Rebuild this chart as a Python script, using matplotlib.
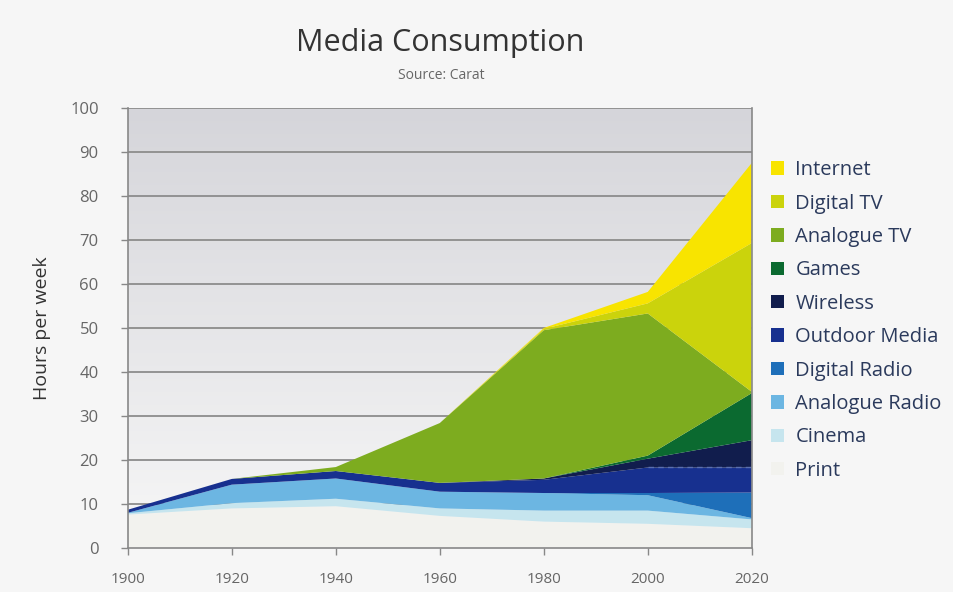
import numpy as np
import matplotlib
matplotlib.use("Agg")
import matplotlib.pyplot as plt
from matplotlib.patches import Patch
from matplotlib.colors import LinearSegmentedColormap

# ---- data ----
years = [1900, 1920, 1940, 1960, 1980, 2000, 2020]
print_media    = [7.6, 9.0, 9.5, 7.3, 6.0, 5.5, 4.5]
cinema         = [0.3, 1.2, 1.7, 1.7, 2.5, 3.0, 2.0]
analogue_radio = [0.1, 4.2, 4.6, 3.8, 4.0, 3.5, 0.3]
digital_radio  = [0.0, 0.0, 0.0, 0.0, 0.0, 0.5, 5.8]
outdoor_media  = [0.7, 1.3, 1.7, 2.0, 3.0, 5.8, 5.7]
wireless       = [0.0, 0.0, 0.0, 0.0, 0.3, 2.0, 6.2]
games          = [0.0, 0.0, 0.0, 0.0, 0.0, 0.7, 10.7]
analogue_tv    = [0.0, 0.0, 0.9, 13.6, 33.7, 32.3, 0.3]
digital_tv     = [0.0, 0.0, 0.0, 0.0, 0.3, 2.3, 33.8]
internet       = [0.0, 0.0, 0.0, 0.0, 0.2, 2.6, 18.2]

series_names = ["Print", "Cinema", "Analogue Radio", "Digital Radio", "Outdoor Media",
                "Wireless", "Games", "Analogue TV", "Digital TV", "Internet"]
series = [print_media, cinema, analogue_radio, digital_radio, outdoor_media,
          wireless, games, analogue_tv, digital_tv, internet]
colors = ["#f2f2ee", "#c6e5ee", "#6cb6e2", "#1e6fb9", "#17308f",
          "#111d4d", "#0b6a30", "#7dac1f", "#cbd30c", "#f8e400"]

plt.rcParams['font.family'] = ['Open Sans', 'DejaVu Sans']

fig = plt.figure(figsize=(9.54, 5.92), dpi=100, facecolor="#f6f6f6")
ax = fig.add_axes([0.134, 0.0743, 0.654, 0.7433])

# gradient background
grad = np.linspace(0, 1, 256).reshape(-1, 1)
cmap = LinearSegmentedColormap.from_list("bg", ["#f7f7f7", "#d5d5da"])
ax.imshow(grad, extent=[1900, 2020, 0, 100], aspect="auto", cmap=cmap,
          origin="lower", zorder=0)

ax.set_xlim(1900, 2020)
ax.set_ylim(0, 100)

for y in range(10, 101, 10):
    ax.axhline(y, color="#8c8c8c", lw=1.3, zorder=1)

ax.stackplot(years, *series, colors=colors, zorder=2, linewidth=0)

# dashed boundary between outdoor media and wireless
cum = np.cumsum(np.array(series), axis=0)
ax.plot(years[5:], cum[4][5:], ls=(0, (4, 3)), color="#5a6fb0", lw=1, zorder=3)

ax.spines["top"].set_visible(False)
for s in ["left", "bottom", "right"]:
    ax.spines[s].set_color("#888888")
    ax.spines[s].set_linewidth(1.2)
    ax.spines[s].set_zorder(4)

ax.set_xticks(years)
ax.set_yticks(range(0, 101, 10))
ax.tick_params(axis="both", colors="#888888", labelcolor="#666666",
               length=5, width=1)
ax.tick_params(axis="x", pad=12, labelsize=11)
ax.tick_params(axis="y", pad=16, labelsize=12)
ax.set_ylabel("Hours per week", fontsize=14, color="#333333", labelpad=14)

fig.text(0.461, 0.928, "Media Consumption", ha="center", va="center",
         fontsize=22, color="#333333")
fig.text(0.463, 0.873, "Source: Carat", ha="center", va="center",
         fontsize=10, color="#666666")

handles = [Patch(facecolor=c, edgecolor="none") for c in colors[::-1]]
leg = fig.legend(handles, series_names[::-1], loc="upper left",
                 bbox_to_anchor=(0.800, 0.743), frameon=False,
                 fontsize=14.5, handlelength=0.65, handleheight=0.65,
                 handletextpad=0.55, labelspacing=0.665, borderaxespad=0)
for t in leg.get_texts():
    t.set_color("#2b3a5c")

fig.savefig("out.png", dpi=100, facecolor=fig.get_facecolor())
